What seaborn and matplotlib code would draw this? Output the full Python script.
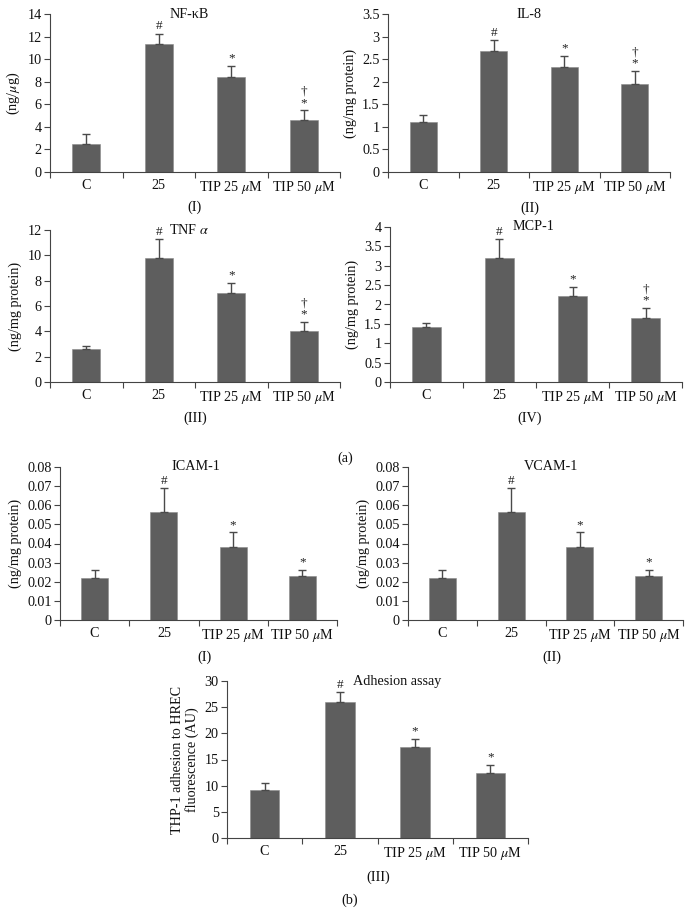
import matplotlib
matplotlib.use("Agg")
import matplotlib.pyplot as plt
import seaborn as sns
import pandas as pd

sns.set_theme(style="ticks")
plt.rcParams["font.family"] = ["Liberation Serif", "DejaVu Serif"]
plt.rcParams["mathtext.fontset"] = "stix"

categories = ["C", "25", "TIP 25 uM", "TIP 50 uM"]
tick_labels = ["C", "25", r"TIP 25 $\mu$M", r"TIP 50 $\mu$M"]

nfkb_mean = [2.5, 11.35, 8.45, 4.6]
nfkb_err = [0.9, 0.9, 0.95, 0.85]
nfkb_marks = [[], ["#"], ["*"], ["*", "\u2020"]]

il8_mean = [1.11, 2.69, 2.32, 1.94]
il8_err = [0.16, 0.23, 0.26, 0.30]
il8_marks = [[], ["#"], ["*"], ["*", "\u2020"]]

tnf_mean = [2.6, 9.76, 7.0, 4.03]
tnf_err = [0.27, 1.5, 0.84, 0.73]
tnf_marks = [[], ["#"], ["*"], ["*", "\u2020"]]

mcp1_mean = [1.42, 3.21, 2.21, 1.66]
mcp1_err = [0.11, 0.47, 0.24, 0.25]
mcp1_marks = [[], ["#"], ["*"], ["*", "\u2020"]]

icam_mean = [0.0222, 0.0565, 0.0381, 0.0230]
icam_err = [0.0038, 0.0125, 0.0077, 0.0032]
icam_marks = [[], ["#"], ["*"], ["*"]]

vcam_mean = [0.0222, 0.0565, 0.0381, 0.0230]
vcam_err = [0.0038, 0.0125, 0.0077, 0.0032]
vcam_marks = [[], ["#"], ["*"], ["*"]]

adh_mean = [9.15, 26.05, 17.45, 12.42]
adh_err = [1.4, 1.85, 1.45, 1.5]
adh_marks = [[], ["#"], ["*"], ["*"]]

W, H = 690, 916
fig = plt.figure(figsize=(W / 100, H / 100), dpi=100)
fig.patch.set_facecolor("white")

BAR = "#5e5e5e"
AX = "#444444"
FS = 10.2


def panel(box, mean, err, marks, title, ylabel, ymax, ystep, yfmt, title_x,
          sublabel, sub_xy):
    l, t, r, b = box
    ax = fig.add_axes([l / W, 1 - b / H, (r - l) / W, (b - t) / H])
    df = pd.DataFrame({"cat": categories, "val": mean})
    sns.barplot(data=df, x="cat", y="val", ax=ax, color=BAR, width=0.39,
                saturation=1, errorbar=None, edgecolor="#8a8a8a", linewidth=0.4)
    xs = list(range(len(categories)))
    ax.errorbar(xs, mean, yerr=[[0] * len(mean), err], fmt="none",
                ecolor="#4a4a4a", elinewidth=1.0, capsize=3, capthick=1.0)
    for i, (m, e, mk) in enumerate(zip(mean, err, marks)):
        for k, s in enumerate(mk):
            ax.annotate(s, xy=(i, m + e), xytext=(0, 1 + 8 * k),
                        textcoords="offset points", ha="center", va="bottom",
                        fontsize=9.5, color="#222222")
    ax.set_xlim(-0.5, len(categories) - 0.5)
    ax.set_ylim(0, ymax)
    n = int(round(ymax / ystep))
    yt = [ystep * i for i in range(n + 1)]
    ax.set_yticks(yt)
    ax.set_yticklabels([yfmt(v) for v in yt])
    ax.set_xticks(xs)
    ax.set_xticklabels(tick_labels)
    ax.set_xticks([x - 0.5 for x in range(len(categories) + 1)], minor=True)
    ax.tick_params(axis="x", which="major", length=0, pad=5, labelsize=FS,
                   colors="#111111")
    ax.tick_params(axis="x", which="minor", length=4, width=0.8, color=AX,
                   direction="out")
    ax.tick_params(axis="y", length=4, width=0.8, color=AX, labelsize=FS,
                   pad=2, labelcolor="#111111", direction="out")
    for s in ["top", "right"]:
        ax.spines[s].set_visible(False)
    for s in ["left", "bottom"]:
        ax.spines[s].set_color(AX)
        ax.spines[s].set_linewidth(0.8)
    ax.set_xlabel("")
    ax.set_ylabel(ylabel, fontsize=FS, color="#111111", labelpad=4,
                  linespacing=1.05)
    ax.text(title_x, 1.0, title, transform=ax.transAxes, ha="center",
            va="center", fontsize=FS, color="#111111")
    fig.text(sub_xy[0] / W, 1 - sub_xy[1] / H, sublabel, ha="center",
             va="center", fontsize=FS, color="#111111")
    return ax


def fmt_int(v):
    return "%d" % round(v)


def fmt_g(v):
    s = ("%.2f" % v).rstrip("0").rstrip(".")
    return s if s else "0"


panel((50, 14, 340, 172), nfkb_mean, nfkb_err, nfkb_marks, "NF-\u03baB",
      r"(ng/$\mu$g)", 14, 2, fmt_int, 0.48, "(I)", (195, 207))
panel((388, 14, 670, 172), il8_mean, il8_err, il8_marks, "IL-8",
      "(ng/mg protein)", 3.5, 0.5, fmt_g, 0.50, "(II)", (530, 208))
panel((50, 230, 340, 382), tnf_mean, tnf_err, tnf_marks, r"TNF $\alpha$",
      "(ng/mg protein)", 12, 2, fmt_int, 0.48, "(III)", (195, 418))
panel((390, 227, 682, 382), mcp1_mean, mcp1_err, mcp1_marks, "MCP-1",
      "(ng/mg protein)", 4, 0.5, fmt_g, 0.49, "(IV)", (530, 418))
panel((60, 467, 337, 620), icam_mean, icam_err, icam_marks, "ICAM-1",
      "(ng/mg protein)", 0.08, 0.01, fmt_g, 0.49, "(I)", (205, 657))
panel((408, 467, 683, 620), vcam_mean, vcam_err, vcam_marks, "VCAM-1",
      "(ng/mg protein)", 0.08, 0.01, fmt_g, 0.52, "(II)", (552, 657))
panel((227, 681, 528, 838), adh_mean, adh_err, adh_marks, "Adhesion assay",
      "THP-1 adhesion to HREC\nfluorescence (AU)", 30, 5, fmt_int, 0.565,
      "(III)", (378, 877))

fig.text(345 / W, 1 - 458 / H, "(a)", ha="center", va="center", fontsize=FS,
         color="#111111")
fig.text(350 / W, 1 - 900 / H, "(b)", ha="center", va="center", fontsize=FS,
         color="#111111")

fig.savefig("out.png", dpi=100, facecolor="white")
